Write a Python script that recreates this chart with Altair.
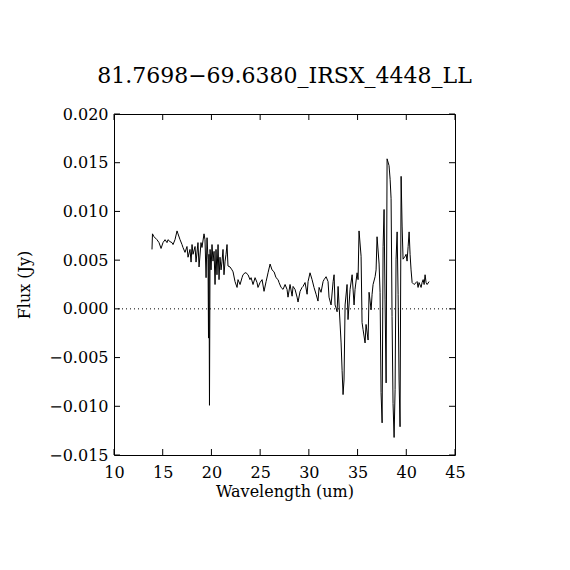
import altair as alt
import pandas as pd

wavelength = [
    13.90, 13.95, 14.11, 14.41, 14.62, 14.83, 15.03, 15.24, 15.44, 15.54,
    15.75, 15.95, 16.06, 16.26, 16.47, 16.57, 16.78, 16.98, 17.08, 17.29,
    17.49, 17.60, 17.80, 17.91, 18.01, 18.11, 18.32, 18.42, 18.62, 18.73,
    18.93, 19.03, 19.24, 19.34, 19.45, 19.55,
    19.65, 19.70, 19.75, 19.80, 19.86, 19.96, 20.06, 20.16, 20.27, 20.37,
    20.47, 20.57, 20.68, 20.78, 20.88, 20.99, 21.09, 21.19, 21.29, 21.40,
    21.50, 21.60, 21.70,
    21.91, 22.11, 22.22, 22.42, 22.63, 22.73, 22.94, 23.14, 23.24, 23.45,
    23.55, 23.76, 23.96, 24.07, 24.27, 24.48, 24.68, 24.78, 24.99, 25.20,
    25.40, 25.61, 25.81, 26.02, 26.22, 26.43, 26.63, 26.84, 26.94, 27.15,
    27.35, 27.56, 27.76, 27.86, 28.07, 28.28, 28.38, 28.58, 28.79, 28.89,
    29.10, 29.30, 29.40, 29.61, 29.82, 29.92, 30.12, 30.33, 30.53, 30.74,
    30.94, 31.05, 31.25, 31.46, 31.56, 31.77, 31.97, 32.07, 32.28, 32.49,
    32.59, 32.69, 32.79, 32.90, 33.00,
    33.31, 33.41, 33.51, 33.61, 33.72, 33.92, 34.02, 34.23, 34.44, 34.64,
    34.74, 34.95, 35.05, 35.15, 35.36, 35.46, 35.56, 35.77, 35.87, 36.08,
    36.18, 36.39, 36.49, 36.59, 36.80, 36.90, 37.00, 37.21, 37.31, 37.41,
    37.52, 37.62, 37.72, 37.82, 37.93, 38.03, 38.23, 38.34, 38.44, 38.54,
    38.64, 38.75, 38.85, 38.95, 39.06, 39.16, 39.26, 39.36, 39.47, 39.57,
    39.67, 39.88, 39.98, 40.08, 40.19, 40.29, 40.39, 40.49, 40.60, 40.80,
    41.01, 41.11, 41.21, 41.31, 41.52, 41.62, 41.73, 41.83, 41.93, 42.03,
    42.14, 42.34,
]

flux = [
    0.0061, 0.0077, 0.0074, 0.0071, 0.0068, 0.0062, 0.0068, 0.0071, 0.0068, 0.0071,
    0.0069, 0.0068, 0.0066, 0.0071, 0.0080, 0.0077, 0.0071, 0.0066, 0.0063, 0.0058,
    0.0064, 0.0053, 0.0061, 0.0048, 0.0066, 0.0056, 0.0064, 0.0048, 0.0068, 0.0043,
    0.0068, 0.0063, 0.0077, 0.0071, 0.0032, 0.0073,
    0.0051, -0.0030, 0.0056, -0.0099, 0.0061, 0.0040, 0.0066, 0.0049, 0.0059, 0.0025,
    0.0061, 0.0035, 0.0066, 0.0030, 0.0053, 0.0040, 0.0049, 0.0061, 0.0035, 0.0049,
    0.0056, 0.0066, 0.0044,
    0.0043, 0.0040, 0.0038, 0.0028, 0.0022, 0.0030, 0.0025, 0.0032, 0.0035, 0.0037,
    0.0037, 0.0035, 0.0030, 0.0032, 0.0025, 0.0032, 0.0027, 0.0022, 0.0027, 0.0030,
    0.0018, 0.0028, 0.0037, 0.0046, 0.0040, 0.0038, 0.0032, 0.0030, 0.0027, 0.0022,
    0.0020, 0.0025, 0.0020, 0.0012, 0.0025, 0.0013, 0.0023, 0.0020, 0.0012, 0.0007,
    0.0018, 0.0022, 0.0023, 0.0027, 0.0015, 0.0028, 0.0037, 0.0030, 0.0022, 0.0015,
    0.0008, 0.0022, 0.0017, 0.0028, 0.0030, 0.0033, 0.0028, 0.0012, 0.0004, 0.0028,
    0.0035, 0.0004, 0.0001, -0.0003, 0.0023,
    -0.0035, -0.0063, -0.0088, -0.0073, 0.0004, 0.0025, -0.0011, 0.0020, 0.0035, 0.0004,
    0.0020, 0.0037, 0.0030, 0.0080, 0.0054, -0.0014, -0.0021, -0.0035, -0.0016, -0.0032,
    0.0017, -0.0001, 0.0015, 0.0025, 0.0033, 0.0040, 0.0074, 0.0046, 0.0017, -0.0086,
    -0.0117, 0.0064, 0.0102, 0.0010, -0.0076, 0.0154, 0.0147, 0.0133, 0.0113, -0.0008,
    -0.0097, -0.0132, -0.0083, 0.0051, 0.0079, 0.0015, -0.0073, -0.0121, 0.0136, 0.0085,
    0.0051, 0.0054, 0.0056, 0.0049, 0.0064, 0.0079, 0.0056, 0.0040, 0.0027, 0.0025,
    0.0027, 0.0028, 0.0022, 0.0027, 0.0022, 0.0027, 0.0030, 0.0025, 0.0035, 0.0027,
    0.0025, 0.0028,
]

x_ticks = [10, 15, 20, 25, 30, 35, 40, 45]
y_ticks = [-0.015, -0.010, -0.005, 0.0, 0.005, 0.010, 0.015, 0.020]
title_text = "81.7698\u221269.6380_IRSX_4448_LL"

W, H = 341, 341
TICK = 6
FONT = "DejaVu Serif"

spec = pd.DataFrame({"wavelength": wavelength, "flux": flux})
xt = pd.DataFrame({"wavelength": x_ticks})
yt = pd.DataFrame({"flux": y_ticks})
zt = pd.DataFrame({"flux": [0.0]})

xs = alt.Scale(domain=[10, 45], nice=False, zero=False)
ys = alt.Scale(domain=[-0.015, 0.020], nice=False, zero=False)

x_axis = alt.Axis(values=x_ticks, format="d", title="Wavelength (um)",
                  ticks=False, domain=False, grid=False,
                  labelFont=FONT, labelFontSize=16, labelColor="black",
                  labelPadding=9, labelFlush=False,
                  titleFont=FONT, titleFontSize=16, titleFontWeight="normal",
                  titleColor="black", titlePadding=3)
y_axis = alt.Axis(values=y_ticks, format=".3f", title="Flux (Jy)",
                  ticks=False, domain=False, grid=False,
                  labelFont=FONT, labelFontSize=16, labelColor="black",
                  labelPadding=6, labelFlush=False,
                  titleFont=FONT, titleFontSize=16, titleFontWeight="normal",
                  titleColor="black", titlePadding=16)

X = alt.X("wavelength:Q", scale=xs, axis=x_axis)
Y = alt.Y("flux:Q", scale=ys, axis=y_axis)

line = alt.Chart(spec).mark_line(color="black", strokeWidth=1).encode(x=X, y=Y)

zero = alt.Chart(zt).mark_rule(
    color="black", strokeWidth=1, strokeDash=[1, 3]
).encode(y=Y, x=alt.value(0), x2=alt.value(W))

xb = alt.Chart(xt).mark_rule(color="black", strokeWidth=1).encode(
    x=X, y=alt.value(H), y2=alt.value(H - TICK))
xtop = alt.Chart(xt).mark_rule(color="black", strokeWidth=1).encode(
    x=X, y=alt.value(0), y2=alt.value(TICK))
yl = alt.Chart(yt).mark_rule(color="black", strokeWidth=1).encode(
    y=Y, x=alt.value(0), x2=alt.value(TICK))
yr = alt.Chart(yt).mark_rule(color="black", strokeWidth=1).encode(
    y=Y, x=alt.value(W - TICK), x2=alt.value(W))

chart = alt.layer(line, zero, xb, xtop, yl, yr).properties(
    width=W, height=H,
    title=alt.TitleParams(title_text, font=FONT, fontSize=22, fontWeight="normal",
                          color="black", anchor="middle", offset=18),
    autosize="none",
    padding={"left": 106, "top": 106, "right": 107, "bottom": 107},
    background="white",
).configure_view(stroke="black", strokeWidth=1)

chart.save("out.html", embed_options={"renderer": "svg", "actions": False})
